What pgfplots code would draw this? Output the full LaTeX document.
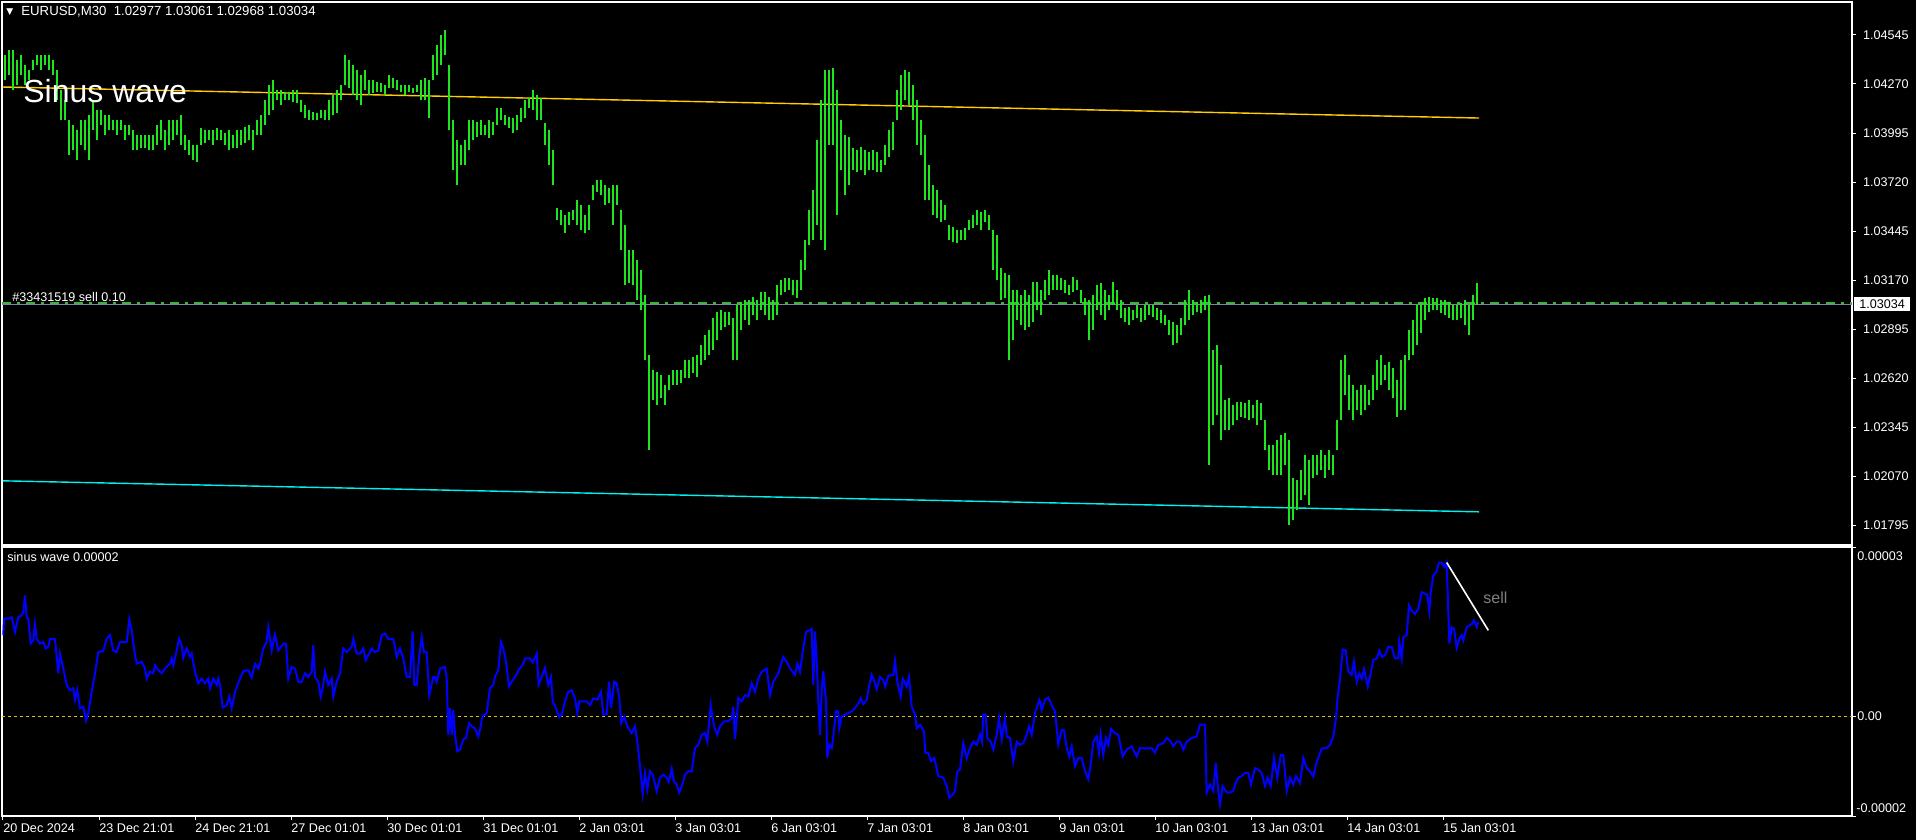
\documentclass[border=0pt]{standalone}
\usepackage{fontspec}
\setmainfont{Liberation Sans}
\newfontfamily\dejavu{DejaVu Sans}
\usepackage{pgfplots}
\usepackage{pgfplotstable}
\pgfplotsset{compat=1.18}

\definecolor{bargreen}{RGB}{30,230,30}
\definecolor{trendyel}{RGB}{255,205,0}
\definecolor{trendcyan}{RGB}{0,240,240}
\definecolor{bidgray}{RGB}{119,136,153}
\definecolor{ordgreen}{RGB}{60,180,60}
\definecolor{sinblue}{RGB}{0,0,255}
\definecolor{zeroyel}{RGB}{230,190,0}
\definecolor{selltxt}{RGB}{128,128,128}
\newcommand\mtfont{\fontsize{6.3}{7.5}\selectfont}

% EURUSD M30 bars: x position (px), low, high
\pgfplotstableread{
x lo hi
5 1.04292 1.04433
9 1.04321 1.04461
13 1.04236 1.04461
17 1.04264 1.04405
21 1.04321 1.04433
25 1.04264 1.04377
29 1.04292 1.04349
33 1.04349 1.04405
37 1.04377 1.04433
41 1.04349 1.04433
45 1.04377 1.04433
49 1.04349 1.04433
53 1.04321 1.04405
57 1.04180 1.04349
61 1.04068 1.04236
65 1.04068 1.04180
69 1.03872 1.04068
73 1.03900 1.04040
77 1.03844 1.04012
81 1.03928 1.04068
85 1.03900 1.04068
89 1.03844 1.04096
93 1.04012 1.04180
97 1.03956 1.04124
101 1.04040 1.04124
105 1.03984 1.04096
109 1.04012 1.04096
113 1.04012 1.04068
117 1.03984 1.04068
121 1.04012 1.04068
125 1.03956 1.04040
129 1.03984 1.04040
133 1.03900 1.04012
137 1.03900 1.03984
141 1.03911 1.03984
145 1.03911 1.03984
149 1.03900 1.03984
153 1.03900 1.03984
157 1.03928 1.04040
161 1.03956 1.04068
165 1.03900 1.04012
169 1.03928 1.04068
173 1.03956 1.04068
177 1.03984 1.04068
181 1.03928 1.04096
185 1.03900 1.03984
189 1.03872 1.03956
193 1.03844 1.03928
197 1.03832 1.03928
201 1.03928 1.04023
205 1.03939 1.04012
209 1.03956 1.04012
213 1.03928 1.04012
217 1.03956 1.04023
221 1.03956 1.04012
225 1.03928 1.03995
229 1.03900 1.04012
233 1.03911 1.03984
237 1.03911 1.04012
241 1.03928 1.04012
245 1.03939 1.04029
249 1.03956 1.04040
253 1.03900 1.04012
257 1.03984 1.04068
261 1.03984 1.04096
265 1.04040 1.04180
269 1.04096 1.04264
273 1.04124 1.04292
277 1.04180 1.04236
281 1.04152 1.04236
285 1.04180 1.04225
289 1.04180 1.04225
293 1.04169 1.04236
297 1.04163 1.04236
301 1.04113 1.04180
305 1.04079 1.04152
309 1.04068 1.04124
313 1.04068 1.04113
317 1.04068 1.04107
321 1.04079 1.04124
325 1.04068 1.04124
329 1.04068 1.04180
333 1.04096 1.04208
337 1.04107 1.04236
341 1.04180 1.04264
345 1.04264 1.04433
349 1.04247 1.04405
353 1.04208 1.04377
357 1.04180 1.04349
361 1.04152 1.04321
365 1.04236 1.04349
369 1.04208 1.04292
373 1.04219 1.04292
377 1.04225 1.04281
381 1.04225 1.04275
385 1.04208 1.04264
389 1.04247 1.04321
393 1.04247 1.04303
397 1.04236 1.04292
401 1.04225 1.04264
405 1.04208 1.04264
409 1.04225 1.04264
413 1.04219 1.04247
417 1.04225 1.04264
421 1.04180 1.04292
425 1.04180 1.04303
429 1.04079 1.04292
433 1.04292 1.04433
437 1.04321 1.04489
441 1.04377 1.04545
445 1.04433 1.04573
449 1.04012 1.04377
453 1.03787 1.04068
457 1.03703 1.03956
461 1.03815 1.03928
465 1.03815 1.03956
469 1.03900 1.04068
473 1.03956 1.04068
477 1.03973 1.04057
481 1.03984 1.04068
485 1.03984 1.04040
489 1.03967 1.04068
493 1.03984 1.04057
497 1.04040 1.04135
501 1.04068 1.04135
505 1.04040 1.04096
509 1.04023 1.04085
513 1.03995 1.04079
517 1.04012 1.04096
521 1.04057 1.04135
525 1.04079 1.04180
529 1.04135 1.04191
533 1.04124 1.04236
537 1.04068 1.04208
541 1.04068 1.04191
545 1.03928 1.04051
549 1.03815 1.04012
553 1.03703 1.03900
557 1.03507 1.03574
561 1.03479 1.03563
565 1.03434 1.03535
569 1.03479 1.03551
573 1.03507 1.03563
577 1.03479 1.03619
581 1.03451 1.03591
585 1.03434 1.03535
589 1.03451 1.03591
593 1.03619 1.03703
597 1.03664 1.03731
601 1.03647 1.03731
605 1.03591 1.03703
609 1.03602 1.03686
613 1.03479 1.03703
617 1.03591 1.03703
621 1.03338 1.03563
625 1.03142 1.03479
629 1.03153 1.03338
633 1.03142 1.03338
637 1.03058 1.03282
641 1.03002 1.03226
645 1.02721 1.03086
649 1.02216 1.02749
653 1.02497 1.02665
657 1.02469 1.02654
661 1.02508 1.02637
665 1.02469 1.02581
669 1.02553 1.02637
673 1.02581 1.02665
677 1.02581 1.02665
681 1.02592 1.02665
685 1.02620 1.02721
689 1.02620 1.02721
693 1.02648 1.02738
697 1.02626 1.02749
701 1.02693 1.02805
705 1.02721 1.02861
709 1.02749 1.02890
713 1.02777 1.02957
717 1.02833 1.02991
721 1.02890 1.03002
725 1.02906 1.02991
729 1.02918 1.02991
733 1.02721 1.02957
737 1.02721 1.03030
741 1.02890 1.03047
745 1.02946 1.03058
749 1.02918 1.03058
753 1.02974 1.03075
757 1.02946 1.03058
761 1.03002 1.03103
765 1.02974 1.03103
769 1.02946 1.03075
773 1.02946 1.03058
777 1.02974 1.03142
781 1.03086 1.03170
785 1.03103 1.03181
789 1.03114 1.03181
793 1.03086 1.03170
797 1.03069 1.03170
801 1.03114 1.03282
805 1.03226 1.03395
809 1.03367 1.03563
813 1.03395 1.03675
817 1.03479 1.03956
821 1.03395 1.04180
825 1.03338 1.04349
829 1.03928 1.04349
833 1.03928 1.04360
837 1.03535 1.04236
841 1.03787 1.04068
845 1.03647 1.03984
849 1.03703 1.03973
853 1.03787 1.03911
857 1.03776 1.03900
861 1.03787 1.03916
865 1.03759 1.03900
869 1.03787 1.03888
873 1.03787 1.03900
877 1.03776 1.03888
881 1.03776 1.03844
885 1.03815 1.03928
889 1.03860 1.04012
893 1.03900 1.04057
897 1.04068 1.04236
901 1.04124 1.04321
905 1.04180 1.04349
909 1.04152 1.04337
913 1.04068 1.04264
917 1.03928 1.04180
921 1.03872 1.04068
925 1.03619 1.03984
929 1.03619 1.03815
933 1.03535 1.03703
937 1.03518 1.03675
941 1.03496 1.03619
945 1.03507 1.03591
949 1.03395 1.03479
953 1.03383 1.03468
957 1.03378 1.03451
961 1.03395 1.03451
965 1.03395 1.03462
969 1.03451 1.03507
973 1.03462 1.03535
977 1.03479 1.03563
981 1.03451 1.03551
985 1.03496 1.03563
989 1.03451 1.03535
993 1.03226 1.03451
997 1.03170 1.03423
1001 1.03058 1.03237
1005 1.03069 1.03209
1009 1.02721 1.03198
1013 1.02833 1.03114
1017 1.02946 1.03114
1021 1.02918 1.03086
1025 1.02890 1.03114
1029 1.02906 1.03086
1033 1.02935 1.03159
1037 1.03002 1.03159
1041 1.02974 1.03114
1045 1.03058 1.03170
1049 1.03086 1.03226
1053 1.03114 1.03198
1057 1.03114 1.03198
1061 1.03114 1.03181
1065 1.03097 1.03170
1069 1.03086 1.03142
1073 1.03103 1.03187
1077 1.03114 1.03170
1081 1.03041 1.03114
1085 1.02974 1.03069
1089 1.02833 1.03058
1093 1.02890 1.03086
1097 1.03002 1.03142
1101 1.02974 1.03153
1105 1.02946 1.03114
1109 1.03002 1.03086
1113 1.03030 1.03159
1117 1.03002 1.03114
1121 1.02957 1.03058
1125 1.02935 1.03013
1129 1.02918 1.03019
1133 1.02946 1.03002
1137 1.02957 1.03030
1141 1.02935 1.03013
1145 1.02946 1.03030
1149 1.02974 1.03030
1153 1.02962 1.03030
1157 1.02946 1.03013
1161 1.02929 1.03002
1165 1.02918 1.02974
1169 1.02861 1.02946
1173 1.02805 1.02935
1177 1.02816 1.02918
1181 1.02861 1.02957
1185 1.02918 1.03058
1189 1.02946 1.03114
1193 1.02974 1.03058
1197 1.02991 1.03047
1201 1.02985 1.03058
1205 1.03002 1.03080
1209 1.02132 1.03086
1213 1.02356 1.02777
1217 1.02412 1.02805
1221 1.02272 1.02693
1225 1.02328 1.02497
1229 1.02328 1.02508
1233 1.02356 1.02469
1237 1.02384 1.02486
1241 1.02401 1.02486
1245 1.02396 1.02480
1249 1.02384 1.02497
1253 1.02396 1.02469
1257 1.02356 1.02497
1261 1.02384 1.02480
1265 1.02216 1.02384
1269 1.02104 1.02244
1273 1.02076 1.02244
1277 1.02076 1.02272
1281 1.02076 1.02300
1285 1.02132 1.02311
1289 1.01795 1.02272
1293 1.01823 1.02059
1297 1.01879 1.02048
1301 1.01935 1.02104
1305 1.01964 1.02188
1309 1.01907 1.02160
1313 1.02059 1.02188
1317 1.02076 1.02188
1321 1.02104 1.02216
1325 1.02059 1.02188
1329 1.02104 1.02216
1333 1.02076 1.02188
1337 1.02216 1.02384
1341 1.02384 1.02721
1345 1.02525 1.02749
1349 1.02441 1.02637
1353 1.02384 1.02581
1357 1.02441 1.02553
1361 1.02412 1.02581
1365 1.02441 1.02581
1369 1.02469 1.02553
1373 1.02497 1.02637
1377 1.02553 1.02721
1381 1.02581 1.02749
1385 1.02609 1.02693
1389 1.02553 1.02710
1393 1.02508 1.02676
1397 1.02401 1.02609
1401 1.02441 1.02721
1405 1.02441 1.02749
1409 1.02721 1.02890
1413 1.02749 1.02946
1417 1.02805 1.03030
1421 1.02873 1.03041
1425 1.02946 1.03069
1429 1.02991 1.03075
1433 1.03002 1.03069
1437 1.03002 1.03069
1441 1.02985 1.03058
1445 1.02974 1.03058
1449 1.02957 1.03047
1453 1.02946 1.03030
1457 1.02946 1.03030
1461 1.02957 1.03041
1465 1.02918 1.03058
1469 1.02861 1.03030
1473 1.02946 1.03086
1477 1.03030 1.03153
}\bars

\pgfplotsset{
  mtaxis/.style={
    scale only axis, anchor=north west,
    width=925pt,
    xmin=2, xmax=1852,
    axis line style={white, line width=0.6pt},
    tick style={white, line width=0.5pt},
    tick align=outside, major tick length=2pt,
    ytick pos=right, yticklabel pos=right,
    ticklabel style={font=\mtfont, text=white},
  }
}

\begin{document}
\begin{tikzpicture}
\begin{scope}[x=0.5pt,y=-0.5pt]
\fill[black] (0,0) rectangle (1916,840);
\path[use as bounding box] (0,0) rectangle (1916,840);
\end{scope}

% price window
\begin{axis}[mtaxis, at={(1pt,-1pt)}, height=271.5pt,
  ymin=1.016828, ymax=1.047302,
  xtick=\empty,
  ytick={1.01795,1.02070,1.02345,1.02620,1.02895,1.03170,1.03445,1.03720,1.03995,1.04270,1.04545},
  yticklabels={1.01795,1.02070,1.02345,1.02620,1.02895,1.03170,1.03445,1.03720,1.03995,1.04270,1.04545},
]
\addplot[bidgray, line width=0.5pt] coordinates {(2,1.03034) (1852,1.03034)};
\addplot[ordgreen, line width=0.8pt, dash pattern=on 4.5pt off 3pt on 1.5pt off 3pt] coordinates {(2,1.03041) (1852,1.03041)};
\addplot[trendyel, line width=0.7pt] coordinates {(3,1.04253) (1479,1.04079)};
\addplot[trendcyan, line width=0.7pt] coordinates {(3,1.02043) (1479,1.01869)};
\addplot[draw=none, mark=none,
  error bars/.cd, y dir=plus, y explicit, error mark=none,
  error bar style={solid, draw=bargreen, line width=0.6pt}]
  table[x=x, y=lo, y error expr=\thisrow{hi}-\thisrow{lo}] {\bars};
\end{axis}

% indicator window
\begin{axis}[mtaxis, at={(1pt,-273.5pt)}, height=134.5pt,
  ymin=-1.883e-5, ymax=3.193e-5,
  ytick={-1.883e-5,0,3.193e-5}, yticklabels={,,},
  xtick={3,99,195,291,387,483,579,675,771,867,963,1059,1155,1251,1347,1443},
  xticklabels={20 Dec 2024,23 Dec 21:01,24 Dec 21:01,27 Dec 01:01,30 Dec 01:01,31 Dec 01:01,2 Jan 03:01,3 Jan 03:01,6 Jan 03:01,7 Jan 03:01,8 Jan 03:01,9 Jan 03:01,10 Jan 03:01,13 Jan 03:01,14 Jan 03:01,15 Jan 03:01},
  xtick pos=left,
  xticklabel style={anchor=north west, inner sep=0pt, yshift=-1.5pt},
  scaled y ticks=false,
]
\addplot[zeroyel, line width=0.5pt, dash pattern=on 1.5pt off 1.5pt] coordinates {(2,0) (1852,0)};
\addplot[sinblue, line width=1pt] coordinates {
(3.3,1.53e-5) (4,1.84e-5) (8.3,1.84e-5) (11.7,1.87e-5) (15,1.59e-5) (18.3,1.87e-5) (21.7,1.90e-5) (23.3,1.96e-5) (25,2.28e-5) (26.7,1.87e-5) (28.3,1.84e-5) (30.7,1.37e-5) (33.3,1.43e-5) (35,1.74e-5) (36.7,1.46e-5) (40,1.37e-5) (43.3,1.40e-5) (45.7,1.28e-5) (48.3,1.31e-5) (50,1.46e-5) (55,1.46e-5) (58.3,0.81e-5) (60,1.18e-5) (63.3,0.90e-5) (66.7,0.59e-5) (70,0.49e-5) (73.3,0.53e-5) (75,0.31e-5) (77.3,0.49e-5) (80,0.15e-5) (83.3,0.18e-5) (86,-0.08e-5) (88.3,0.06e-5) (91.7,0.46e-5) (95,0.81e-5) (98.3,1.21e-5) (103.3,1.23e-5) (106.7,1.46e-5) (110,1.53e-5) (113.3,1.24e-5) (116.7,1.21e-5) (120,1.40e-5) (126.7,1.40e-5) (129.3,1.83e-5) (131.7,1.62e-5) (135,1.15e-5) (136.7,0.99e-5) (141.7,1.03e-5) (145,0.90e-5) (146.7,0.71e-5) (150,0.84e-5) (153.3,0.81e-5) (155,0.96e-5) (158.3,0.87e-5) (161.7,0.81e-5) (165,0.90e-5) (170,0.99e-5) (171.7,1.09e-5) (173.3,0.96e-5) (176.7,1.24e-5) (179,1.46e-5) (181.7,1.34e-5) (183.3,1.10e-5) (186.7,1.28e-5) (190,1.12e-5) (191.7,1.18e-5) (195,0.84e-5) (198.3,0.62e-5) (201.7,0.71e-5) (205,0.62e-5) (208.3,0.71e-5) (210,0.53e-5) (213.3,0.71e-5) (216.7,0.59e-5) (218.3,0.71e-5) (220,0.59e-5) (222.7,0.16e-5) (226.7,0.21e-5) (229.3,0.37e-5) (231.7,0.15e-5) (235,0.46e-5) (240,0.71e-5) (243.3,0.85e-5) (248.3,0.87e-5) (251.7,0.73e-5) (255,0.99e-5) (258.3,0.90e-5) (260,0.99e-5) (263.3,1.28e-5) (266.7,1.40e-5) (268.3,1.68e-5) (271.7,1.24e-5) (275,1.54e-5) (278.3,1.24e-5) (283.3,1.37e-5) (286,1.37e-5) (288.3,0.71e-5) (291.7,0.93e-5) (295,0.90e-5) (298.3,0.65e-5) (301.7,0.65e-5) (305,0.81e-5) (308.3,0.74e-5) (311.7,0.84e-5) (313.3,1.34e-5) (315,0.74e-5) (318.3,0.65e-5) (320.7,0.37e-5) (322.7,0.53e-5) (325,0.84e-5) (328.3,0.59e-5) (331.7,0.71e-5) (333.3,0.37e-5) (336.7,0.65e-5) (340,0.81e-5) (343.3,1.28e-5) (346.7,1.21e-5) (351.7,1.31e-5) (353.3,1.46e-5) (356.7,1.18e-5) (360,1.18e-5) (363.3,1.28e-5) (365.7,1.06e-5) (368.3,1.15e-5) (371.7,1.28e-5) (375,1.21e-5) (378.3,1.24e-5) (381.7,1.53e-5) (385,1.56e-5) (388.3,1.46e-5) (393.3,1.46e-5) (396.7,1.12e-5) (400,1.28e-5) (403.3,1.09e-5) (406.7,0.74e-5) (410,0.74e-5) (412.7,1.60e-5) (414.3,0.59e-5) (416.7,0.59e-5) (419.3,1.15e-5) (421.7,1.49e-5) (424,1.21e-5) (426.7,1.21e-5) (429.3,0.40e-5) (433.3,0.74e-5) (435,0.74e-5) (436.7,0.65e-5) (440,0.90e-5) (445,0.93e-5) (446.7,0.71e-5) (448.3,-0.35e-5) (450,0.15e-5) (451.7,-0.35e-5) (453.3,0.12e-5) (455,-0.35e-5) (457.3,-0.66e-5) (460,-0.63e-5) (463.3,-0.44e-5) (466,-0.41e-5) (469,-0.13e-5) (471.7,-0.19e-5) (475,-0.23e-5) (478.3,-0.38e-5) (480,-0.26e-5) (482.3,-0.01e-5) (486.7,0.06e-5) (490,0.53e-5) (493.3,0.59e-5) (495,0.74e-5) (498.3,0.87e-5) (501,1.40e-5) (503.3,1.28e-5) (506,1.03e-5) (509,0.56e-5) (511.7,0.65e-5) (515,0.74e-5) (519.3,0.90e-5)
(520,0.90e-5) (523.3,0.99e-5) (525,1.09e-5) (530,1.09e-5) (532.7,1.01e-5) (536.7,1.18e-5) (538.7,0.59e-5) (541.7,0.74e-5) (545,0.91e-5) (548.3,0.59e-5) (551,0.74e-5) (552.7,0.28e-5) (556,0.15e-5) (559.3,-0.02e-5) (561.7,0.03e-5) (565,0.28e-5) (568.3,0.46e-5) (571.7,0.49e-5) (575,0.34e-5) (577.3,0.06e-5) (579.3,0.28e-5) (586.7,0.28e-5) (590,0.21e-5) (593.3,0.34e-5) (597.3,0.31e-5) (601,0.46e-5) (603.3,0.03e-5) (606.7,0.04e-5) (609,0.65e-5) (611,0.15e-5) (614.3,0.65e-5) (616.7,0.62e-5) (619.3,0.34e-5) (621.3,-0.13e-5) (624.3,-0.01e-5) (627.3,-0.19e-5) (631.7,-0.32e-5) (635,-0.19e-5) (637.3,-0.48e-5) (640,-0.94e-5) (642.7,-1.46e-5) (645,-1.07e-5) (647.3,-1.38e-5) (650,-1.04e-5) (652.7,-1.10e-5) (656.7,-1.41e-5) (660,-1.16e-5) (663.3,-1.10e-5) (666.7,-1.16e-5) (668.7,-1.24e-5) (671.7,-0.99e-5) (674,-1.23e-5) (676.7,-1.29e-5) (679.3,-1.44e-5) (682.3,-1.29e-5) (685,-1.10e-5) (688.3,-1.04e-5) (691.7,-1.04e-5) (695,-0.60e-5) (698.3,-0.54e-5) (701.7,-0.35e-5) (705,-0.32e-5) (707.3,-0.48e-5) (710.7,0.21e-5) (714,-0.19e-5) (717.3,-0.35e-5) (720,-0.19e-5) (724,-0.10e-5) (728.3,-0.09e-5) (731.7,-0.04e-5) (733.3,0.18e-5) (735,-0.43e-5) (736.7,-0.04e-5) (738.3,0.34e-5) (741.7,0.28e-5) (745,0.40e-5) (748.3,0.37e-5) (751.7,0.62e-5) (755,0.46e-5) (758.3,0.71e-5) (761.7,0.84e-5) (766.7,0.90e-5) (770,0.40e-5) (773.3,0.65e-5) (778.3,0.81e-5) (783.3,1.12e-5) (786.7,1.03e-5) (790,0.90e-5) (795,0.78e-5) (797.3,0.99e-5) (800,0.84e-5) (802.7,1.21e-5) (806,1.59e-5) (809.3,1.62e-5) (811.7,1.65e-5) (813.3,0.59e-5) (815,1.60e-5) (816.7,1.06e-5) (818.3,0.31e-5) (820,-0.35e-5) (821.7,0.49e-5) (823.3,0.85e-5) (826,0.28e-5) (827.3,-0.79e-5) (829.3,-0.54e-5) (831.7,-0.60e-5) (833.3,-0.38e-5) (836,0.10e-5) (838.3,0.09e-5) (839.3,-0.23e-5) (841.7,-0.01e-5) (845,0.03e-5) (848.3,0.06e-5) (851.7,0.09e-5) (855,0.15e-5) (858.3,0.24e-5) (860.7,0.34e-5) (863.3,0.23e-5) (866.7,0.31e-5) (869.3,0.59e-5) (871.7,0.78e-5) (874,0.68e-5) (876.7,0.51e-5) (880,0.74e-5) (883.3,0.68e-5) (885.3,0.56e-5) (888.3,0.76e-5) (893.3,0.78e-5) (895,1.04e-5) (897.3,0.65e-5) (900.7,0.37e-5) (902.7,0.71e-5) (906.7,0.56e-5) (909,0.74e-5) (911.7,0.18e-5) (915,0.03e-5) (916.7,-0.23e-5) (920,-0.16e-5) (924,-0.29e-5) (925.3,-0.69e-5) (928.3,-0.69e-5) (931,-0.85e-5) (934.3,-0.79e-5) (938.3,-1.13e-5) (943.3,-1.16e-5) (946.7,-1.32e-5) (949.3,-1.54e-5) (952.7,-1.48e-5) (955,-1.41e-5) (957.3,-1.04e-5) (960,-1.01e-5) (963.3,-0.51e-5) (966.7,-0.79e-5) (970,-0.60e-5) (973.3,-0.48e-5) (976.7,-0.54e-5) (980,-0.35e-5) (982,-0.48e-5) (983.3,0.03e-5) (985.7,0.03e-5) (987.3,-0.41e-5) (990.7,-0.48e-5) (993.3,-0.63e-5) (996.7,-0.35e-5) (999,-0.04e-5) (1001.7,-0.44e-5) (1003.3,-0.23e-5) (1005,-0.04e-5) (1006.7,-0.38e-5) (1010,-0.41e-5) (1013.3,-0.85e-5) (1016.7,-0.48e-5) (1020,-0.54e-5) (1023.3,-0.51e-5) (1026.7,-0.35e-5) (1029,-0.19e-5) (1031.7,-0.35e-5) (1035,0.06e-5) (1039.3,0.31e-5)
(1040,0.28e-5) (1041.7,0.12e-5) (1045,0.31e-5) (1048.3,0.35e-5) (1051.7,0.21e-5) (1055,0.09e-5) (1058.3,-0.53e-5) (1061.7,-0.26e-5) (1064,-0.26e-5) (1066.7,-0.60e-5) (1069.3,-0.76e-5) (1071.7,-0.57e-5) (1075,-0.94e-5) (1078.3,-0.79e-5) (1081.7,-0.79e-5) (1085,-1.04e-5) (1088.3,-1.19e-5) (1090.7,-0.91e-5) (1093.3,-0.48e-5) (1096.7,-0.38e-5) (1099,-0.69e-5) (1100.7,-0.35e-5) (1103.3,-0.73e-5) (1106,-0.41e-5) (1108.3,-0.54e-5) (1111,-0.24e-5) (1115,-0.32e-5) (1118.3,-0.35e-5) (1122.7,-0.76e-5) (1126.7,-0.63e-5) (1131.7,-0.57e-5) (1136.7,-0.76e-5) (1140,-0.60e-5) (1146.7,-0.61e-5) (1151.7,-0.60e-5) (1155,-0.69e-5) (1158.3,-0.54e-5) (1163.3,-0.51e-5) (1166.7,-0.41e-5) (1170.7,-0.48e-5) (1173.3,-0.57e-5) (1176.7,-0.48e-5) (1180,-0.48e-5) (1183.3,-0.63e-5) (1186.7,-0.48e-5) (1191.7,-0.41e-5) (1196.7,-0.38e-5) (1200,-0.16e-5) (1205,-0.16e-5) (1206.7,-1.44e-5) (1210,-1.29e-5) (1213.3,-1.41e-5) (1215.7,-0.88e-5) (1218.3,-1.41e-5) (1220,-1.66e-5) (1222.7,-1.32e-5) (1226.7,-1.44e-5) (1230,-1.44e-5) (1233.3,-1.41e-5) (1235,-1.29e-5) (1238.3,-1.16e-5) (1241.7,-1.13e-5) (1245,-1.07e-5) (1248.3,-1.07e-5) (1251,-1.29e-5) (1255,-0.98e-5) (1258.3,-1.01e-5) (1261.7,-1.07e-5) (1265,-1.32e-5) (1267.7,-1.16e-5) (1270.7,-1.32e-5) (1274,-0.79e-5) (1277.3,-1.16e-5) (1280.7,-0.73e-5) (1283.3,-0.73e-5) (1286.7,-1.41e-5) (1290,-1.16e-5) (1293.3,-1.29e-5) (1296,-1.13e-5) (1300,-1.26e-5) (1303.3,-0.79e-5) (1306.7,-0.98e-5) (1310,-1.04e-5) (1313.3,-1.14e-5) (1316,-0.91e-5) (1319.3,-0.73e-5) (1321.7,-0.61e-5) (1326.7,-0.60e-5) (1330,-0.54e-5) (1333.3,-0.38e-5) (1336,-0.04e-5) (1337.3,0.31e-5) (1340,0.71e-5) (1342.7,1.26e-5) (1345.7,1.24e-5) (1348.3,0.84e-5) (1351.7,0.78e-5) (1354,1.03e-5) (1356.7,0.65e-5) (1359.3,0.81e-5) (1361.7,0.71e-5) (1364,0.89e-5) (1367.7,0.56e-5) (1370,0.74e-5) (1373.3,1.06e-5) (1376.7,1.09e-5) (1379.3,1.24e-5) (1381.7,1.12e-5) (1385,1.15e-5) (1388.3,1.31e-5) (1391.7,1.31e-5) (1395,1.09e-5) (1398.3,1.09e-5) (1399.3,1.40e-5) (1401.7,1.09e-5) (1403.3,1.49e-5) (1406.7,1.53e-5) (1409,2.09e-5) (1411.7,1.99e-5) (1415,1.93e-5) (1418.3,2.03e-5) (1421.7,2.34e-5) (1425,2.31e-5) (1427.3,2.29e-5) (1429.3,1.99e-5) (1430.7,2.34e-5) (1433.3,2.65e-5) (1436.7,2.74e-5) (1439,2.90e-5) (1441.7,2.90e-5) (1444.3,2.81e-5) (1446.7,2.90e-5) (1448.3,1.96e-5) (1449.3,1.37e-5) (1451.7,1.68e-5) (1454,1.65e-5) (1456.7,1.29e-5) (1459.3,1.46e-5) (1461.7,1.53e-5) (1463.3,1.43e-5) (1466.7,1.68e-5) (1469.3,1.71e-5) (1471.7,1.74e-5) (1474,1.81e-5) (1476.7,1.68e-5) (1478.3,1.78e-5)
};
\addplot[white, line width=0.8pt] coordinates {(1446.7,2.90e-5) (1488.3,1.62e-5)};
\end{axis}

% labels (positions in screen pixels)
\begin{scope}[x=0.5pt,y=-0.5pt]
\node[anchor=west, inner sep=0pt, text=white, font=\dejavu\fontsize{4.5}{5}\selectfont] at (6,12) {▼};
\node[anchor=west, inner sep=0pt, text=white, font=\fontsize{6.6}{8}\selectfont] at (21,12) {EURUSD,M30\ \ 1.02977 1.03061 1.02968 1.03034};
\node[anchor=base west, inner sep=0pt, text=white, font=\fontsize{16}{18}\selectfont] at (23,103) {Sinus wave};
\node[anchor=base west, inner sep=0pt, text=white, font=\mtfont] at (12,301) {\#33431519 sell 0.10};
\fill[white] (1854,297) rectangle (1910,311);
\node[anchor=west, inner sep=0pt, text=black, font=\mtfont] at (1859,304) {1.03034};
\node[anchor=west, inner sep=0pt, text=white, font=\mtfont] at (7,557) {sinus wave 0.00002};
\node[anchor=west, inner sep=0pt, text=white, font=\mtfont] at (1857,556) {0.00003};
\node[anchor=west, inner sep=0pt, text=white, font=\mtfont] at (1857,716) {0.00};
\node[anchor=west, inner sep=0pt, text=white, font=\mtfont] at (1856,808) {-0.00002};
\node[anchor=base west, inner sep=0pt, text=selltxt, font=\fontsize{8}{9}\selectfont] at (1483,603) {sell};
\end{scope}
\end{tikzpicture}
\end{document}
